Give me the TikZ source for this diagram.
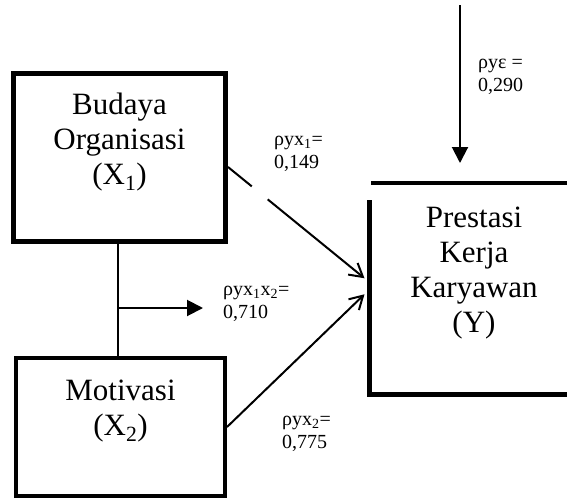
\documentclass[tikz,border=0pt]{standalone}
\usepackage{fontspec}
\setmainfont{Liberation Serif}
\usetikzlibrary{arrows.meta,calc}
\begin{document}
\begin{tikzpicture}[x=1pt,y=-1pt,
  box/.style={draw, line width=5pt, minimum width=212pt, minimum height=168pt, inner sep=0pt},
  boxtext/.style={align=center, font=\fontsize{31}{35}\selectfont, inner sep=0pt},
  coef/.style={align=left, font=\fontsize{20}{23}\selectfont, inner sep=0pt, anchor=west},
  patharrow/.style={line width=2pt, -{Straight Barb[length=13pt,width=15pt,line width=2pt]}},
  solidarrow/.style={line width=2pt, -{Triangle[length=16pt,width=16pt]}},
  link/.style={line width=1.8pt}]
\useasboundingbox (0,0) rectangle (567,501);
\clip (0,0) rectangle (567,501);

% boxes
\node[box] (X1) at (119.5,157.5) {};
\node[box, line width=4pt, minimum width=209pt, minimum height=138pt] (X2) at (120.5,427) {};
\node[minimum width=197.5pt, minimum height=211.5pt, inner sep=0pt, outer sep=0pt, anchor=north west] (Y) at (369.5,183) {};
\draw[line width=4pt] ($(Y.north west)+(1.5,0)$) -- (Y.north east);
\draw[line width=4.5pt] ($(Y.north west)+(0,17)$) -- ($(Y.south west)+(0,2.5)$);
\draw[line width=5pt] ($(Y.south west)+(-2,0)$) -- (Y.south east);

% box texts
\node[boxtext] (t1) at (119.5,142) {Budaya\\Organisasi\\(X\textsubscript{1})};
\node[boxtext] (t2) at (120.5,411.5) {Motivasi\\(X\textsubscript{2})};
\node[boxtext] (tY) at (474,273) {Prestasi\\Kerja\\Karyawan\\(Y)};

% correlation link
\coordinate (m) at (118,308);
\coordinate (mEnd) at (203,308);
\draw[link] (m |- X1.south) -- (m |- X2.north);
\draw[solidarrow] (m) -- (mEnd);

% paths to Y
\coordinate (a1) at ($(X1.east)+(0,9.5)$);
\coordinate (b1) at ($(Y.west)+(-5,-10.5)$);
\draw[patharrow] (a1) -- (b1);
\draw[white, line width=4pt] ($(a1)!0.175!(b1)$) -- ($(a1)!0.29!(b1)$);
\draw[patharrow] (X2.east) -- ($(Y.west)+(-5,5.5)$);

% error term
\coordinate (eps) at (460,5);
\draw[solidarrow] (eps) -- ($(eps |- Y.north)+(0,-20)$);

% coefficients
\node[coef] (c1) at (274,153.5) {ρyx\textsubscript{1}=\\0,149};
\node[coef] (c2) at (223,304) {ρyx\textsubscript{1}x\textsubscript{2}=\\0,710};
\node[coef] (c3) at (282,434) {ρyx\textsubscript{2}=\\0,775};
\node[coef] (c4) at (478,76.5) {ρyε =\\0,290};
\end{tikzpicture}
\end{document}
